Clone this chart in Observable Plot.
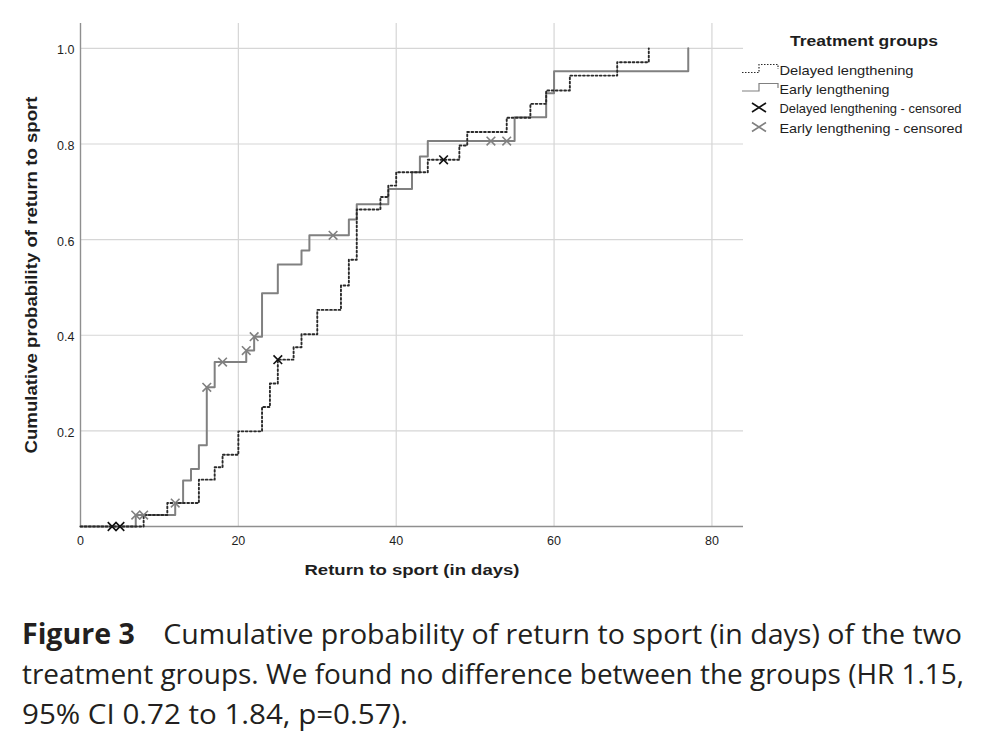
<!DOCTYPE html>
<html>
<head>
<meta charset="utf-8">
<script src="https://cdn.jsdelivr.net/npm/d3@7"></script>
<script src="https://cdn.jsdelivr.net/npm/@observablehq/plot@0.6"></script>
<style>
  html, body { margin: 0; padding: 0; background: #fff; }
  #wrap { position: relative; width: 986px; height: 744px; overflow: hidden; font-family: "Liberation Sans", Arial, sans-serif; }
  #legend { position: absolute; left: 738px; top: 25px; }
  #caption { position: absolute; left: 0; top: 600px; }
</style>
</head>
<body>
<div id="wrap">
  <div id="chart"></div>
  <svg id="legend" width="248" height="120"></svg>
  <svg id="caption" width="986" height="144"></svg>
</div>
<script>
// Kaplan–Meier style cumulative return-to-sport curves, one per treatment group
const groupNames = ["Delayed lengthening", "Early lengthening"];

// Delayed lengthening: event days and cumulative probability after each step
const delayedDays = [0, 8, 11, 15, 17, 18, 20, 23, 24, 25, 27, 28, 30, 33, 34, 35, 38, 39, 40, 44, 48, 49, 54, 57, 59, 62, 68, 72];
const delayedCum  = [0, 0.024, 0.049, 0.098, 0.124, 0.150, 0.199, 0.250, 0.299, 0.349, 0.375, 0.402, 0.453, 0.504, 0.558, 0.663, 0.689, 0.713, 0.741, 0.767, 0.797, 0.825, 0.855, 0.884, 0.912, 0.943, 0.971, 1.0];

// Early lengthening: event days and cumulative probability after each step
const earlyDays = [0, 7, 12, 13, 14, 15, 16, 17, 21, 22, 23, 25, 28, 29, 34, 35, 39, 42, 43, 44, 55, 59, 60, 77];
const earlyCum  = [0, 0.024, 0.049, 0.096, 0.120, 0.170, 0.291, 0.344, 0.368, 0.397, 0.488, 0.548, 0.577, 0.609, 0.642, 0.674, 0.706, 0.741, 0.774, 0.806, 0.856, 0.906, 0.952, 1.0];

// Censored observations (day, curve level at that day)
const delayedCensDays = [4, 5, 25, 46];
const delayedCensCum  = [0, 0, 0.349, 0.767];
const earlyCensDays = [7, 8, 12, 16, 18, 21, 22, 32, 52, 54];
const earlyCensCum  = [0.024, 0.024, 0.049, 0.291, 0.344, 0.368, 0.397, 0.609, 0.806, 0.806];

// Axis ticks and texts
const xTicks = [0, 20, 40, 60, 80];
const yTicks = [0.2, 0.4, 0.6, 0.8, 1.0];
const xTitle = "Return to sport (in days)";
const yTitle = "Cumulative probability of return to sport";
const legendTitle = "Treatment groups";
const legendLabels = ["Delayed lengthening", "Early lengthening", "Delayed lengthening - censored", "Early lengthening - censored"];
const captionLead = "Figure 3";
const captionLines = [
  "Cumulative probability of return to sport (in days) of the two",
  "treatment groups. We found no difference between the groups (HR 1.15,",
  "95% CI 0.72 to 1.84, p=0.57)."
];

const rows = (days, cum, group) => days.map((d, i) => ({day: d, cum: cum[i], group}));
const delayed = rows(delayedDays, delayedCum, groupNames[0]);
const early = rows(earlyDays, earlyCum, groupNames[1]);
const delayedCens = rows(delayedCensDays, delayedCensCum, groupNames[0]);
const earlyCens = rows(earlyCensDays, earlyCensCum, groupNames[1]);

const ink = "#1e1e1e";
const dotInk = "#2a2a2a";
const solidGrey = "#808080";
const gridGrey = "#d6d6d6";
const axisGrey = "#8f8f8f";
const fontFamily = "'Liberation Sans', Arial, sans-serif";

const chart = Plot.plot({
  width: 986,
  height: 600,
  marginLeft: 80,
  marginRight: 243,
  marginTop: 23,
  marginBottom: 74,
  style: {fontFamily, fontSize: "12.5px", color: ink, background: "#fff", overflow: "visible"},
  x: {domain: [0, 84]},
  y: {domain: [0, 1.052]},
  marks: [
    Plot.gridX(xTicks.filter(d => d > 0), {stroke: gridGrey, strokeOpacity: 1, strokeWidth: 1.2}),
    Plot.gridY(yTicks, {stroke: gridGrey, strokeOpacity: 1, strokeWidth: 1.2}),
    Plot.ruleX([0], {stroke: axisGrey, strokeWidth: 1.4}),
    Plot.ruleY([0], {stroke: axisGrey, strokeWidth: 1.4}),
    Plot.axisX(xTicks, {tickSize: 0, tickPadding: 10, label: xTitle, labelAnchor: "center", labelOffset: 48, labelArrow: "none"}),
    Plot.axisY(yTicks, {tickSize: 0, tickPadding: 6, tickFormat: d3.format(".1f"), dy: 2, label: yTitle, labelAnchor: "center", labelOffset: 55, labelArrow: "none"}),
    Plot.line(early, {x: "day", y: "cum", curve: "step-after", stroke: solidGrey, strokeWidth: 2}),
    Plot.line(delayed, {x: "day", y: "cum", curve: "step-after", stroke: dotInk, strokeWidth: 1.9, strokeDasharray: "1.8,2.4"}),
    Plot.dot(earlyCens, {x: "day", y: "cum", symbol: "times", r: 4, stroke: solidGrey, strokeWidth: 1.6}),
    Plot.dot(delayedCens, {x: "day", y: "cum", symbol: "times", r: 4, stroke: "#111", strokeWidth: 1.6})
  ]
});
document.getElementById("chart").appendChild(chart);

// Bold axis titles, widened to the figure's lettering
function styleTitle(sel, size, length) {
  sel.attr("font-weight", "bold").attr("font-size", size).attr("fill", ink)
     .attr("textLength", length).attr("lengthAdjust", "spacingAndGlyphs");
}
styleTitle(d3.select(chart).selectAll('[aria-label="x-axis label"] text'), 14.5, 215);
styleTitle(d3.select(chart).selectAll('[aria-label="y-axis label"] text'), 16, 357);

// Legend: group key with step-line and censor glyphs
const lg = d3.select("#legend");
const ox = 738, oy = 25; // legend box origin on the page
const at = (x, y) => `translate(${x - ox},${y - oy})`;
lg.append("text").attr("transform", at(790, 46)).attr("font-family", fontFamily).attr("font-weight", "bold")
  .attr("font-size", 14.5).attr("fill", ink).attr("textLength", 148).attr("lengthAdjust", "spacingAndGlyphs").text(legendTitle);
const rowBase = [74.5, 94, 113, 132.5];
const rowWidth = [134, 110, 182, 183];
legendLabels.forEach((label, i) => {
  lg.append("text").attr("transform", at(779.5, rowBase[i])).attr("font-family", fontFamily)
    .attr("font-size", i < 2 ? 13.5 : 13).attr("fill", ink)
    .attr("textLength", rowWidth[i]).attr("lengthAdjust", "spacingAndGlyphs").text(label);
});
// step icons
lg.append("path").attr("d", `M${742-ox},${72.5-oy}H${759-ox}V${64.5-oy}H${778-ox}V${69-oy}`)
  .attr("fill", "none").attr("stroke", dotInk).attr("stroke-width", 1.2).attr("stroke-dasharray", "1.5,1.5");
lg.append("path").attr("d", `M${742-ox},${91-oy}H${759-ox}V${83.5-oy}H${778-ox}V${88-oy}`)
  .attr("fill", "none").attr("stroke", solidGrey).attr("stroke-width", 1.2);
// censor icons
[[107.5, "#111"], [127, solidGrey]].forEach(([cy, c]) => {
  lg.append("path").attr("d", `M${752-ox},${cy-4.5-oy}L${766-ox},${cy+4.5-oy}M${752-ox},${cy+4.5-oy}L${766-ox},${cy-4.5-oy}`)
    .attr("stroke", c).attr("stroke-width", 1.6).attr("fill", "none");
});

// Caption
const cap = d3.select("#caption");
const capFont = "'Open Sans', 'Noto Sans', 'Liberation Sans', sans-serif";
const capBase = [44, 84, 124];
const capWidth = [940, 942, 386];
captionLines.forEach((line, i) => {
  const t = cap.append("text").attr("x", 22).attr("y", capBase[i]).attr("font-family", capFont)
    .attr("font-size", 28).attr("fill", "#231f20")
    .attr("textLength", capWidth[i]).attr("lengthAdjust", "spacingAndGlyphs");
  if (i === 0) {
    t.append("tspan").attr("font-weight", "bold").text(captionLead);
    t.append("tspan").text("\u2002\u2002" + line);
  } else {
    t.text(line);
  }
});
</script>
</body>
</html>
